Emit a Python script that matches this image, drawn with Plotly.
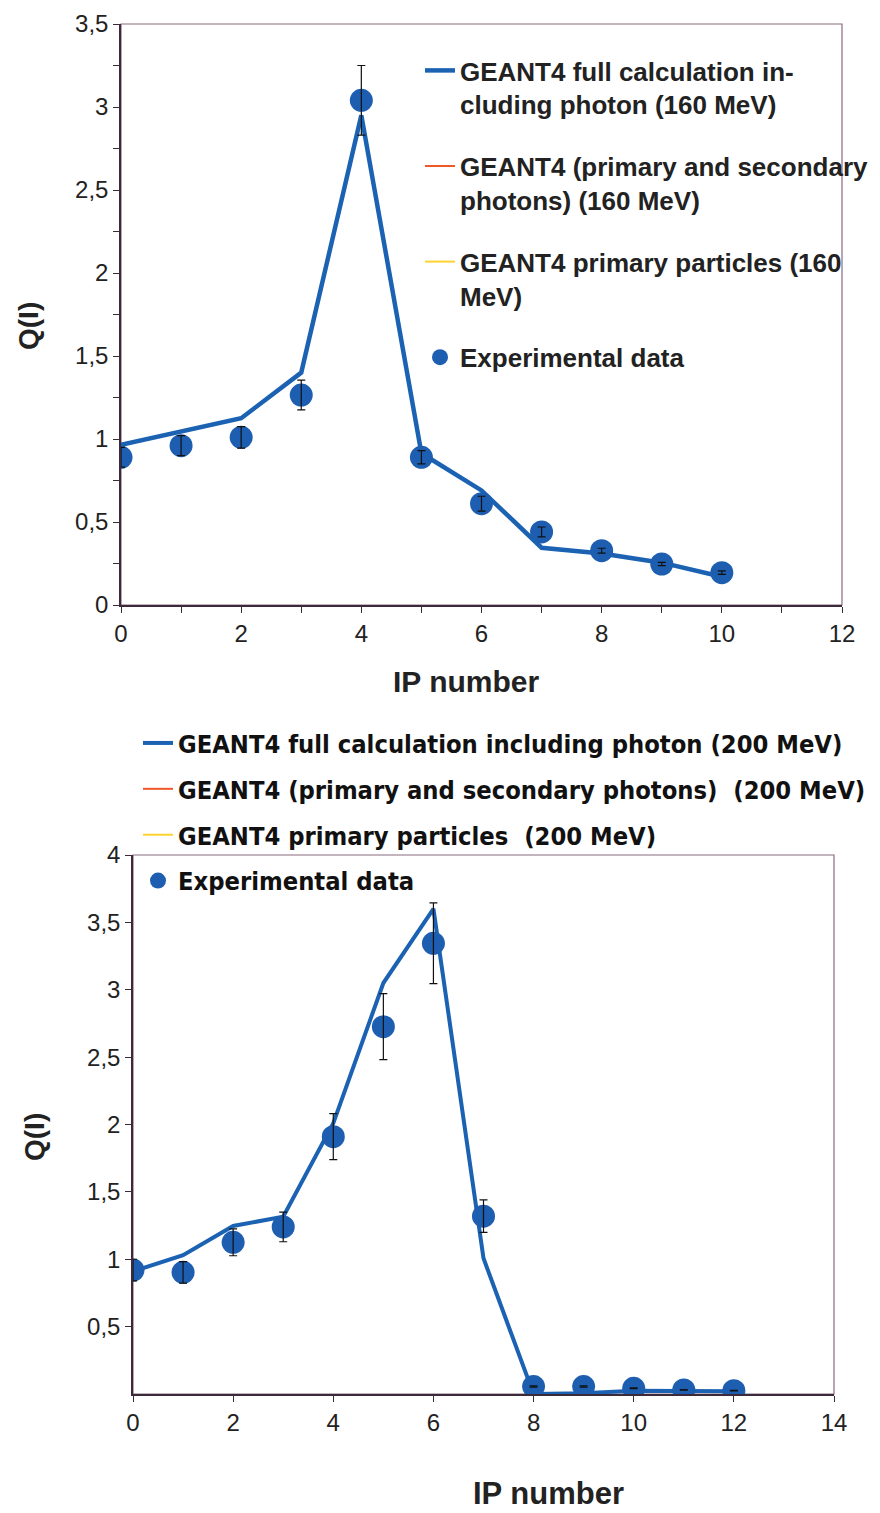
import plotly.graph_objects as go

# --- dados ---
# painel superior (160 MeV)
ip_160 = [0, 1, 2, 3, 4, 5, 6, 7, 8, 9, 10]
geant_full_160 = [0.965, 1.044, 1.125, 1.40, 2.95, 0.914, 0.69, 0.345, 0.31, 0.255, 0.17]
exp_160 = [0.89, 0.96, 1.01, 1.265, 3.04, 0.89, 0.61, 0.44, 0.327, 0.247, 0.195]
exp_err_160 = [0.06, 0.06, 0.065, 0.09, 0.21, 0.04, 0.045, 0.03, 0.015, 0.01, 0.01]

# painel inferior (200 MeV)
ip_200 = [0, 1, 2, 3, 4, 5, 6, 7, 8, 9, 10, 11, 12]
geant_full_200 = [0.91, 1.03, 1.247, 1.316, 2.01, 3.05, 3.60, 1.007, 0.0, 0.005, 0.025, 0.025, 0.02]
exp_200 = [0.92, 0.903, 1.126, 1.24, 1.91, 2.726, 3.345, 1.32, 0.055, 0.055, 0.042, 0.03, 0.025]
exp_err_200 = [0.08, 0.08, 0.1, 0.11, 0.17, 0.245, 0.30, 0.12, 0.005, 0.005, 0.003, 0.002, 0.002]

# as curvas vermelha e amarela ficam escondidas sob a azul
geant_sec_160 = list(geant_full_160)
geant_prim_160 = list(geant_full_160)
geant_sec_200 = list(geant_full_200)
geant_prim_200 = list(geant_full_200)

names_160 = ["GEANT4 full calculation in-<br>cluding photon (160 MeV)",
             "GEANT4 (primary and secondary<br>photons) (160 MeV)",
             "GEANT4 primary particles (160<br>MeV)",
             "Experimental data"]
names_200 = ["GEANT4 full calculation including photon (200 MeV)",
             "GEANT4 (primary and secondary photons)  (200 MeV)",
             "GEANT4 primary particles  (200 MeV)",
             "Experimental data"]

BLUE = "#1b62b3"
DOT = "#1d5eb0"
RED = "#f0582a"
YELLOW = "#ffd22e"
AXIS = "#3b2a3a"
FRAME = "#8a6a7e"
TICKFONT = dict(family="Liberation Sans, Arial", size=24, color="#222")

fig = go.Figure()


def add_panel(fig, xs, full, sec, prim, exp, err, names, xa, ya, leg, lw):
    fig.add_trace(go.Scatter(x=xs, y=sec, mode="lines", name=names[1], line=dict(color=RED, width=2),
                             xaxis=xa, yaxis=ya, legend=leg, legendgroup=leg + "b", legendrank=2))
    fig.add_trace(go.Scatter(x=xs, y=prim, mode="lines", name=names[2], line=dict(color=YELLOW, width=2),
                             xaxis=xa, yaxis=ya, legend=leg, legendgroup=leg + "c", legendrank=3))
    fig.add_trace(go.Scatter(x=xs, y=full, mode="lines", name=names[0], line=dict(color=BLUE, width=lw),
                             xaxis=xa, yaxis=ya, legend=leg, legendgroup=leg + "a", legendrank=1))
    fig.add_trace(go.Scatter(x=xs[:len(exp)], y=exp, mode="markers", name=names[3],
                             marker=dict(color=DOT, size=23),
                             xaxis=xa, yaxis=ya, legend=leg, legendgroup=leg + "d", legendrank=4))
    # barras de erro por cima dos pontos
    fig.add_trace(go.Scatter(x=xs[:len(exp)], y=exp, mode="markers", showlegend=False,
                             marker=dict(color="rgba(0,0,0,0)", size=1),
                             error_y=dict(type="data", array=err, color="#111", thickness=1.2, width=4),
                             xaxis=xa, yaxis=ya, hoverinfo="skip"))


add_panel(fig, ip_160, geant_full_160, geant_sec_160, geant_prim_160, exp_160, exp_err_160,
          names_160, "x", "y", "legend", 4.5)
add_panel(fig, ip_200, geant_full_200, geant_sec_200, geant_prim_200, exp_200, exp_err_200,
          names_200, "x2", "y2", "legend2", 4)

W, H = 880, 1513
ax_common = dict(showgrid=False, zeroline=False, showline=True, linecolor=AXIS, linewidth=1.5,
                 ticks="outside", ticklen=6, tickcolor=AXIS, tickfont=TICKFONT, automargin=False)

fig.update_layout(
    width=W, height=H,
    margin=dict(l=0, r=0, t=0, b=0, autoexpand=False),
    paper_bgcolor="white", plot_bgcolor="white",
    separators=", ",
    xaxis=dict(domain=[121 / W, 842 / W], range=[0, 12], tickvals=[0, 2, 4, 6, 8, 10, 12],
               minor=dict(dtick=1, ticks="outside", ticklen=6, tickcolor=AXIS),
               anchor="y", **ax_common),
    yaxis=dict(domain=[1 - 605 / H, 1 - 24 / H], range=[0, 3.5], dtick=0.5,
               minor=dict(dtick=0.25, ticks="outside", ticklen=6, tickcolor=AXIS),
               anchor="x", **ax_common),
    xaxis2=dict(domain=[133 / W, 834 / W], range=[0, 14], tickvals=[0, 2, 4, 6, 8, 10, 12, 14],
                anchor="y2", **ax_common),
    yaxis2=dict(domain=[1 - 1394 / H, 1 - 855 / H], range=[0, 4],
                tickvals=[0.5, 1, 1.5, 2, 2.5, 3, 3.5, 4], anchor="x2", **ax_common),
    legend=dict(x=420 / W, y=1 - 47 / H, xanchor="left", yanchor="top", bgcolor="rgba(0,0,0,0)",
                font=dict(family="Liberation Sans, Arial", size=26, color="#222", weight="bold"),
                tracegroupgap=25, traceorder="grouped", valign="top"),
    legend2=dict(x=138 / W, y=1 - 720 / H, xanchor="left", yanchor="top", bgcolor="rgba(0,0,0,0)",
                 font=dict(family="Liberation Sans Narrow, DejaVu Sans Condensed, Arial", size=25.3,
                           color="#111", weight="bold"),
                 tracegroupgap=10, traceorder="grouped"),
    showlegend=True,
)

# moldura superior/direita (cor mais clara)
for xr, yr in [("x domain", "y domain"), ("x2 domain", "y2 domain")]:
    fig.add_shape(type="rect", xref=xr, yref=yr, x0=0, x1=1, y0=0, y1=1,
                  line=dict(color=FRAME, width=1.2), layer="below")

title_font = dict(family="Liberation Sans, Arial", size=30, color="#222", weight="bold")
titles = [("IP number", 466, 682, 0, 30),
          ("IP number", 548, 1493, 0, 31),
          ("Q(I)", 28, 326, -90, 28),
          ("Q(I)", 34, 1137, -90, 28)]
for txt, px, py, ang, sz in titles:
    fig.add_annotation(text=txt, x=px / W, y=1 - py / H, xref="paper", yref="paper",
                       xanchor="center", yanchor="middle", showarrow=False, textangle=ang,
                       font=dict(title_font, size=sz))

# sem a margem padrão do body, para a figura ocupar a janela inteira
fig.write_html("out.html", config={"displayModeBar": False},
               post_script="document.body.style.margin='0';")
